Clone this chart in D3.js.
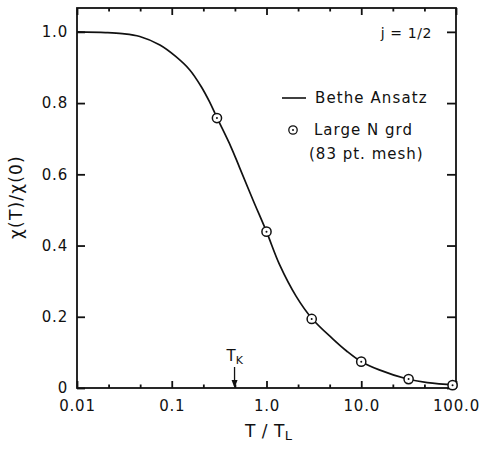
<!DOCTYPE html>
<html><head><meta charset="utf-8">
<script src="https://cdn.jsdelivr.net/npm/d3@7"></script>
<style>
body{margin:0;background:#fff;}
svg text{font-family:"DejaVu Sans",sans-serif;fill:#111;}
</style></head>
<body><svg id="c" width="480" height="450"></svg>
<script>
// Bethe Ansatz curve (T/T_L, chi(T)/chi(0))
const curveT = [0.01,0.02,0.03,0.046,0.075,0.11,0.155,0.205,0.25,0.3,0.42,0.52,0.72,1.0,1.37,2.05,3.0,5.0,7.0,10,15.5,30,50,100];
const curveV = [1.0,0.998,0.995,0.987,0.963,0.931,0.893,0.846,0.804,0.759,0.678,0.619,0.528,0.439,0.347,0.258,0.196,0.138,0.104,0.074,0.051,0.026,0.015,0.008];
// Large N grd points
const ptT = [0.3,1.0,3.0,10,31.6,92];
const ptV = [0.758,0.439,0.194,0.074,0.025,0.008];
const xTicks = [0.01,0.1,1,10,100];
const xTickLabels = ["0.01","0.1","1.0","10.0","100.0"];
const yTicks = [0,0.2,0.4,0.6,0.8,1.0];
const yTickLabels = ["0","0.2","0.4","0.6","0.8","1.0"];
const TK = 0.46;

const svg = d3.select("#c");
const m = {l:77,t:8,r:456,b:388};
const x = d3.scaleLog().domain([0.01,100]).range([m.l,m.r]);
const y = d3.scaleLinear().domain([0,1.067]).range([m.b,m.t]);

const minor = [];
for (let d=-2; d<2; d++){ minor.push(Math.pow(10,d+1/3), Math.pow(10,d+2/3)); }

const fmtX = (d)=>xTickLabels[xTicks.indexOf(d)];
const fmtY = (d)=>yTickLabels[yTicks.indexOf(d)];

function styleAxis(g){ g.select(".domain").remove(); g.selectAll("line").attr("stroke","#111").attr("stroke-width",1.8); g.selectAll("text").attr("font-size",15).attr("letter-spacing",0.8).attr("font-family","DejaVu Sans").attr("fill","#111"); }

svg.append("g").attr("transform",`translate(0,${m.b})`).call(d3.axisBottom(x).tickValues(xTicks).tickFormat(fmtX).tickSize(-7).tickPadding(12)).call(styleAxis);
svg.append("g").attr("transform",`translate(0,${m.b})`).call(d3.axisBottom(x).tickValues(minor).tickFormat("").tickSize(-3.5)).call(styleAxis);
svg.append("g").attr("transform",`translate(0,${m.t})`).call(d3.axisTop(x).tickValues(xTicks).tickFormat("").tickSize(-7)).call(styleAxis);
svg.append("g").attr("transform",`translate(0,${m.t})`).call(d3.axisTop(x).tickValues(minor).tickFormat("").tickSize(-3.5)).call(styleAxis);
svg.append("g").attr("transform",`translate(${m.l},0)`).call(d3.axisLeft(y).tickValues(yTicks).tickFormat(fmtY).tickSize(-8).tickPadding(9)).call(styleAxis);
svg.append("g").attr("transform",`translate(${m.r},0)`).call(d3.axisRight(y).tickValues(yTicks).tickFormat("").tickSize(-9)).call(styleAxis);

svg.append("rect").attr("x",m.l).attr("y",m.t).attr("width",m.r-m.l).attr("height",m.b-m.t)
  .attr("fill","none").attr("stroke","#111").attr("stroke-width",1.8);

const line = d3.line().x(d=>x(d[0])).y(d=>y(d[1])).curve(d3.curveCatmullRom.alpha(0.5));
svg.append("path").datum(curveT.map((t,i)=>[t,curveV[i]])).attr("d",line)
  .attr("fill","none").attr("stroke","#111").attr("stroke-width",1.7);

const pts = svg.append("g").selectAll("g").data(ptT.map((t,i)=>[t,ptV[i]])).join("g")
  .attr("transform",d=>`translate(${x(d[0])},${y(d[1])})`);
pts.append("circle").attr("r",4.6).attr("fill","#fff").attr("stroke","#111").attr("stroke-width",1.5);
pts.append("circle").attr("r",1).attr("fill","#111");

// T_K marker
const tkx = x(TK);
svg.append("line").attr("x1",tkx).attr("x2",tkx).attr("y1",367).attr("y2",m.b-2).attr("stroke","#111").attr("stroke-width",1.3);
svg.append("path").attr("d",`M${tkx-3},${m.b-8} L${tkx},${m.b} L${tkx+3},${m.b-8} Z`).attr("fill","#111");
const tk = svg.append("text").attr("x",tkx-8).attr("y",361).attr("font-size",15);
tk.append("tspan").text("T");
tk.append("tspan").attr("font-size",11).attr("dy",3).text("K");

// annotations
svg.append("text").attr("x",432).attr("y",38).attr("text-anchor","end").attr("font-size",14).attr("letter-spacing",0.6).text("j = 1/2");
svg.append("line").attr("x1",282).attr("x2",306).attr("y1",98).attr("y2",98).attr("stroke","#111").attr("stroke-width",1.6);
svg.append("text").attr("x",315).attr("y",103).attr("font-size",15).attr("letter-spacing",1.1).text("Bethe Ansatz");
svg.append("circle").attr("cx",293).attr("cy",130).attr("r",4.2).attr("fill","#fff").attr("stroke","#111").attr("stroke-width",1.3);
svg.append("circle").attr("cx",293).attr("cy",130).attr("r",1).attr("fill","#111");
svg.append("text").attr("x",314).attr("y",135).attr("font-size",15).attr("letter-spacing",1.0).text("Large N grd");
svg.append("text").attr("x",309).attr("y",159).attr("font-size",15).attr("letter-spacing",1.0).text("(83 pt. mesh)");

// axis titles
const xt = svg.append("text").attr("x",245).attr("y",437).attr("font-size",17).attr("letter-spacing",0.5);
xt.append("tspan").text("T / T");
xt.append("tspan").attr("font-size",13).attr("dy",3).text("L");
svg.append("text").attr("transform","translate(22,197) rotate(-90)").attr("text-anchor","middle").attr("font-size",17).attr("letter-spacing",1.2).text("χ(T)/χ(0)");
</script></body></html>
